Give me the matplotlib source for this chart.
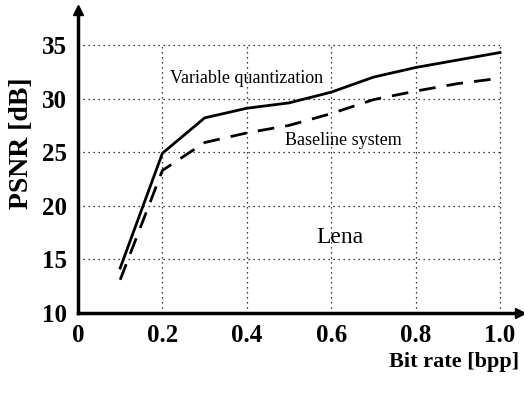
import numpy as np
import matplotlib.pyplot as plt

# values
bit_rate = [0.1, 0.2, 0.3, 0.4, 0.5, 0.6, 0.7, 0.8, 0.9, 1.0]
psnr_variable = [14.2, 24.9, 28.2, 29.1, 29.6, 30.6, 32.0, 32.9, 33.6, 34.3]
psnr_baseline = [13.1, 23.3, 25.9, 26.8, 27.5, 28.6, 29.9, 30.7, 31.4, 31.9]

x_ticks = [0, 0.2, 0.4, 0.6, 0.8, 1.0]
x_tick_labels = ["0", "0.2", "0.4", "0.6", "0.8", "1.0"]
y_ticks = [10, 15, 20, 25, 30, 35]

plt.rcParams['font.family'] = ['Liberation Serif', 'DejaVu Serif']

fig = plt.figure(figsize=(5.24, 3.96), dpi=100)
ax = fig.add_axes([78 / 524, 83 / 396, 442 / 524, 303 / 396])
ax.set_xlim(0, 442 / 422)
ax.set_ylim(10, 10 + 303 / 53.6 * 5)

# dotted grid, only inside the data box
ax.hlines(y_ticks[1:], 0, 1.0, colors='black', linestyles=(0, (1, 3)), linewidth=0.9)
ax.vlines(x_ticks[1:], 10, 35, colors='black', linestyles=(0, (1, 3)), linewidth=0.9)

ax.plot(bit_rate, psnr_variable, color='black', linewidth=2.0, solid_joinstyle='round')
ax.plot(bit_rate, psnr_baseline, color='black', linewidth=2.0, linestyle=(0, (6, 4)))

ax.text(0.40, 31.9, "Variable quantization", fontsize=13, ha='center', va='center')
ax.text(0.63, 26.1, "Baseline system", fontsize=13, ha='center', va='center')
ax.text(0.62, 17.0, "Lena", fontsize=17, ha='center', va='center')

for side in ['top', 'right']:
    ax.spines[side].set_visible(False)
for side in ['left', 'bottom']:
    ax.spines[side].set_linewidth(2.5)

# arrow heads at the axis ends
ax.plot(1, 0, marker='>', color='black', markersize=7, transform=ax.transAxes, clip_on=False)
ax.plot(0, 1, marker='^', color='black', markersize=7, transform=ax.transAxes, clip_on=False)

ax.set_xticks(x_ticks)
ax.set_xticklabels(x_tick_labels)
ax.set_yticks(y_ticks)
ax.tick_params(length=0, labelsize=18, pad=8)
for lbl in ax.get_xticklabels() + ax.get_yticklabels():
    lbl.set_fontweight('bold')

ax.set_ylabel("PSNR [dB]", fontsize=20, fontweight='bold')
ax.yaxis.set_label_coords(-0.10, 0.56)
fig.text(0.99, 0.085, "Bit rate [bpp]", fontsize=16, fontweight='bold', ha='right', va='center')

fig.savefig("out.png", dpi=100)
